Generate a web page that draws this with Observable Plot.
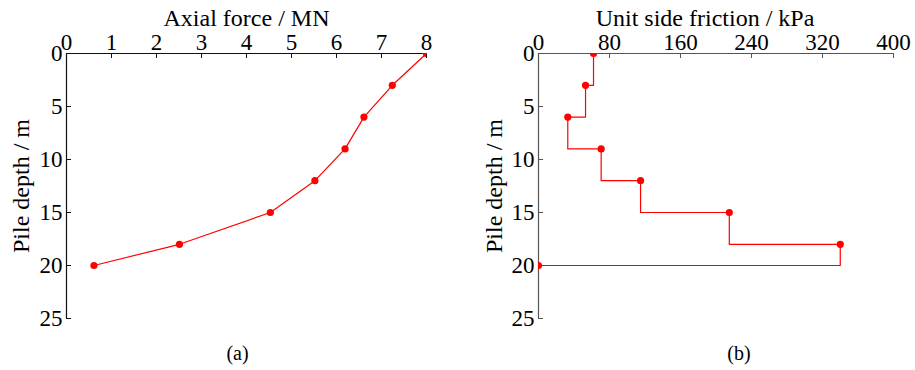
<!DOCTYPE html>
<html>
<head>
<meta charset="utf-8">
<script src="https://cdn.jsdelivr.net/npm/d3@7"></script>
<script src="https://cdn.jsdelivr.net/npm/@observablehq/plot@0.6"></script>
<style>
  html, body { margin: 0; padding: 0; background: #fff; }
  #wrap { display: flex; width: 915px; height: 370px; }
  svg { display: block; }
  svg, svg text { font-family: "Liberation Serif", "Times New Roman", serif !important; }
</style>
</head>
<body>
<div id="wrap"></div>
<script>
const depth = [0, 3, 6, 9, 12, 15, 18, 20];
const axialForce = [8, 7.24, 6.61, 6.19, 5.52, 4.53, 2.51, 0.61];
const sideFriction = [62, 53, 33, 70.6, 115, 215, 340, 0];
const forceTicks = [0, 1, 2, 3, 4, 5, 6, 7, 8];
const frictionTicks = [0, 80, 160, 240, 320, 400];
const depthTicks = [0, 5, 10, 15, 20, 25];
const titleA = "Axial force / MN";
const titleB = "Unit side friction / kPa";
const yTitle = "Pile depth / m";
const captionA = "(a)";
const captionB = "(b)";

const rowsA = depth.map((d, i) => ({depth: d, value: axialForce[i]}));
const rowsB = depth.map((d, i) => ({depth: d, value: sideFriction[i]}));

const FONT = "'Liberation Serif', 'Times New Roman', serif";

function panel({width, marginLeft, marginRight, xDomain, xTicks, rows, curve, title, titleDx, caption, captionDx, yLabelDx, axisColor}) {
  const H = 370, mt = 53, mb = 52;
  const frameW = width - marginLeft - marginRight;
  const frameH = H - mt - mb;
  const centered = {textAnchor: "middle", lineAnchor: "middle", fill: "#000"};
  return Plot.plot({
    width, height: H, marginTop: mt, marginBottom: mb, marginLeft, marginRight,
    x: {domain: xDomain},
    y: {domain: [0, 25], reverse: true},
    style: {fontFamily: FONT, color: "#000", background: "#fff", overflow: "visible"},
    marks: [
      Plot.ruleY([0], {stroke: axisColor, strokeWidth: 1.2}),
      Plot.ruleX([xDomain[0]], {stroke: axisColor, strokeWidth: 1.2}),
      Plot.tickX(xTicks, {x: d => d, insetBottom: frameH - 5, stroke: axisColor}),
      Plot.tickY(depthTicks, {y: d => d, insetRight: frameW - 5, stroke: axisColor}),
      Plot.axisX(xTicks, {anchor: "top", tickSize: 0, tickPadding: 4, label: null, fontSize: 23, fill: "#000"}),
      Plot.axisY(depthTicks, {anchor: "left", tickSize: 0, tickPadding: 4, label: null, fontSize: 23, fill: "#000"}),
      Plot.line(rows, {x: "value", y: "depth", stroke: "#ff0000", strokeWidth: 1.2, curve}),
      Plot.dot(rows, {x: "value", y: "depth", r: 3.6, fill: "#ff0000", stroke: "none", clip: true}),
      Plot.text([title], {text: d => d, frameAnchor: "top", dy: -35.5, dx: titleDx, fontSize: 24, ...centered}),
      Plot.text([yTitle], {text: d => d, frameAnchor: "left", rotate: -90, dx: yLabelDx, fontSize: 24, ...centered}),
      Plot.text([caption], {text: d => d, frameAnchor: "bottom", dy: 35, dx: captionDx, fontSize: 20, ...centered})
    ]
  });
}

const wrap = document.getElementById("wrap");
wrap.append(panel({
  width: 460, marginLeft: 66, marginRight: 34, xDomain: [0, 8], xTicks: forceTicks, rows: rowsA,
  curve: "linear", title: titleA, titleDx: 0, caption: captionA, captionDx: -9, yLabelDx: -45, axisColor: "#111"
}));
wrap.append(panel({
  width: 455, marginLeft: 78, marginRight: 22, xDomain: [0, 400], xTicks: frictionTicks, rows: rowsB,
  curve: "step-before", title: titleB, titleDx: -11, caption: captionB, captionDx: 23, yLabelDx: -44, axisColor: "#555"
}));
</script>
</body>
</html>
